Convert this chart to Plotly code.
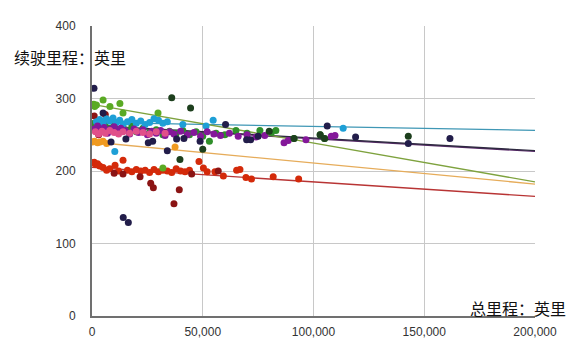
import plotly.graph_objects as go

# ---- data (miles driven vs range in miles) ----
teal_x = [2000, 3500, 5000, 6500, 8000, 9500, 11000, 12500, 14000, 16000, 18000, 20000, 22000, 24000,
          26000, 28000, 30000, 32000, 34000, 41000, 51500, 54700, 113400, 10300]
teal_y = [268, 271, 266, 272, 269, 273, 267, 270, 265, 268, 271, 266, 269, 264,
          267, 272, 270, 266, 268, 264, 262, 270, 259, 227]

green_x = [500, 1000, 1500, 2000, 3000, 4000, 5000, 6000, 8000, 10000, 12000, 14000, 16000, 18000,
           20000, 23000, 26000, 29000, 32000, 35000, 38000, 41000, 44000, 47000, 50000, 53000,
           56000, 60000, 65000, 70000, 75800, 81000, 83000, 91200, 103000, 105000]
green_y = [262, 266, 258, 264, 260, 267, 255, 262, 259, 264, 257, 261, 256, 262,
           254, 259, 253, 257, 250, 255, 252, 256, 250, 254, 248, 241,
           252, 250, 256, 252, 256, 253, 256, 245, 250, 245]

lime_x = [800, 1200, 2000, 5000, 8100, 12600, 14000, 29800, 32000]
lime_y = [292, 289, 291, 298, 289, 293, 280, 280, 204]

purple_x = [1000, 2500, 4000, 5500, 7000, 8500, 10000, 11500, 13000, 15000, 17000, 19000, 21000,
            23000, 25000, 27000, 29000, 31000, 33000, 35000, 37000, 40000, 43000, 46000, 49000,
            52000, 55000, 58000, 62000, 66000, 70000, 74000, 78000, 86700, 88600, 96600, 108000, 109700]
purple_y = [258, 262, 255, 260, 252, 258, 261, 254, 259, 256, 251, 258, 253,
            257, 250, 255, 252, 256, 249, 254, 251, 255, 250, 253, 248,
            254, 251, 249, 252, 248, 250, 247, 249, 239, 242, 243, 248, 249]

magenta_x = [1500, 3000, 4500, 6000, 8000, 10000, 12000, 14000, 17000, 20000, 23000, 26000, 29000, 33000]
magenta_y = [254, 251, 255, 252, 256, 253, 251, 254, 252, 255, 253, 251, 254, 252]

navy_x = [900, 5000, 8600, 15300, 25400, 27400, 34000, 38200, 41500, 48800, 60300, 69800, 71600,
          75000, 106200, 119000, 142800, 161600, 14100, 16400]
navy_y = [314, 280, 240, 244, 239, 241, 228, 244, 245, 241, 264, 243, 243,
          248, 262, 247, 238, 245, 136, 129]

dkgreen_x = [36000, 44500, 39700, 50000, 80000, 91200, 103000, 105000, 142800]
dkgreen_y = [301, 287, 216, 230, 255, 245, 250, 245, 248]

orange_x = [200, 1200, 2500, 3600, 5000, 6600, 37500]
orange_y = [240, 241, 239, 240, 241, 238, 233]

red_x = [300, 1000, 1800, 2500, 3500, 5000, 6600, 8000, 10400, 12000, 14000, 16000, 18000, 20000,
         22000, 24000, 26000, 28000, 30000, 32000, 34000, 36000, 38000, 40000, 42000, 44000, 48300,
         50300, 52000, 55500, 59300, 65300, 66800, 69500, 72000, 81800, 93300]
red_y = [211, 212, 209, 210, 207, 205, 201, 203, 208, 200, 215, 201, 199, 202,
         200, 201, 198, 202, 199, 201, 200, 198, 203, 200, 199, 201, 213,
         204, 199, 199, 193, 201, 202, 191, 189, 192, 189]

dkred_x = [1000, 6000, 10000, 14000, 21700, 26500, 27700, 37000, 39400, 45000, 57000, 3000]
dkred_y = [276, 278, 197, 196, 192, 183, 177, 155, 174, 196, 200, 250]

# trendline end values at x = 0 and x = 200,000
trend_x = [0, 200000]
trend_teal = [267, 256]
trend_purple = [262, 227]
trend_navy = [263, 228]
trend_lime = [292, 185]
trend_orange = [240, 182]
trend_red = [205, 165]

x_ticks = [0, 50000, 100000, 150000, 200000]
y_ticks = [0, 100, 200, 300, 400]

fig = go.Figure()

def trend(vals, color):
    fig.add_trace(go.Scatter(x=trend_x, y=vals, mode="lines",
                             line=dict(color=color, width=1.3), hoverinfo="skip"))

def pts(xs, ys, color):
    fig.add_trace(go.Scatter(x=xs, y=ys, mode="markers",
                             marker=dict(color=color, size=7, line=dict(width=0))))

trend(trend_teal, "#3f97b5")
trend(trend_purple, "#5a2a6a")
trend(trend_navy, "#2e2a40")
trend(trend_lime, "#7ea23e")
trend(trend_orange, "#e6ac5a")
trend(trend_red, "#b83434")

pts(red_x, red_y, "#d42a0a")
pts(dkred_x, dkred_y, "#8b1414")
pts(orange_x, orange_y, "#f09a20")
pts(lime_x, lime_y, "#5aaa24")
pts(green_x, green_y, "#2f8f2a")
pts(teal_x, teal_y, "#1e9fd6")
pts(purple_x, purple_y, "#84189a")
pts(magenta_x, magenta_y, "#e0508a")
pts(navy_x, navy_y, "#221d4a")
pts(dkgreen_x, dkgreen_y, "#1d3f1d")

fig.update_layout(
    width=581, height=358,
    margin=dict(l=84, r=54, t=18, b=50),
    paper_bgcolor="white", plot_bgcolor="white",
    showlegend=False,
    font=dict(family="Arial, Liberation Sans", size=12, color="#333333"),
    xaxis=dict(range=[0, 200000], tickvals=x_ticks, tickformat=",d",
               showgrid=True, gridcolor="#c8c8c8", gridwidth=1,
               showline=True, linecolor="#707070", linewidth=2,
               zeroline=False, ticks="", ticklabelstandoff=4, automargin=False),
    yaxis=dict(range=[0, 400], tickvals=y_ticks,
               showgrid=True, gridcolor="#c8c8c8", gridwidth=1,
               showline=True, linecolor="#707070", linewidth=2,
               zeroline=False, ticks="", ticklabelstandoff=12, automargin=False),
    annotations=[
        dict(text="续驶里程：英里", xref="paper", yref="paper",
             x=-80/443, y=(316-57)/290, xanchor="left", yanchor="middle",
             showarrow=False, font=dict(family="Noto Sans CJK SC", size=16, color="#111")),
        dict(text="总里程：英里", xref="paper", yref="paper",
             x=(568-92)/443, y=(316-308)/290, xanchor="right", yanchor="middle",
             showarrow=False, font=dict(family="Noto Sans CJK SC", size=16, color="#111")),
    ],
)

fig.write_html("out.html")
